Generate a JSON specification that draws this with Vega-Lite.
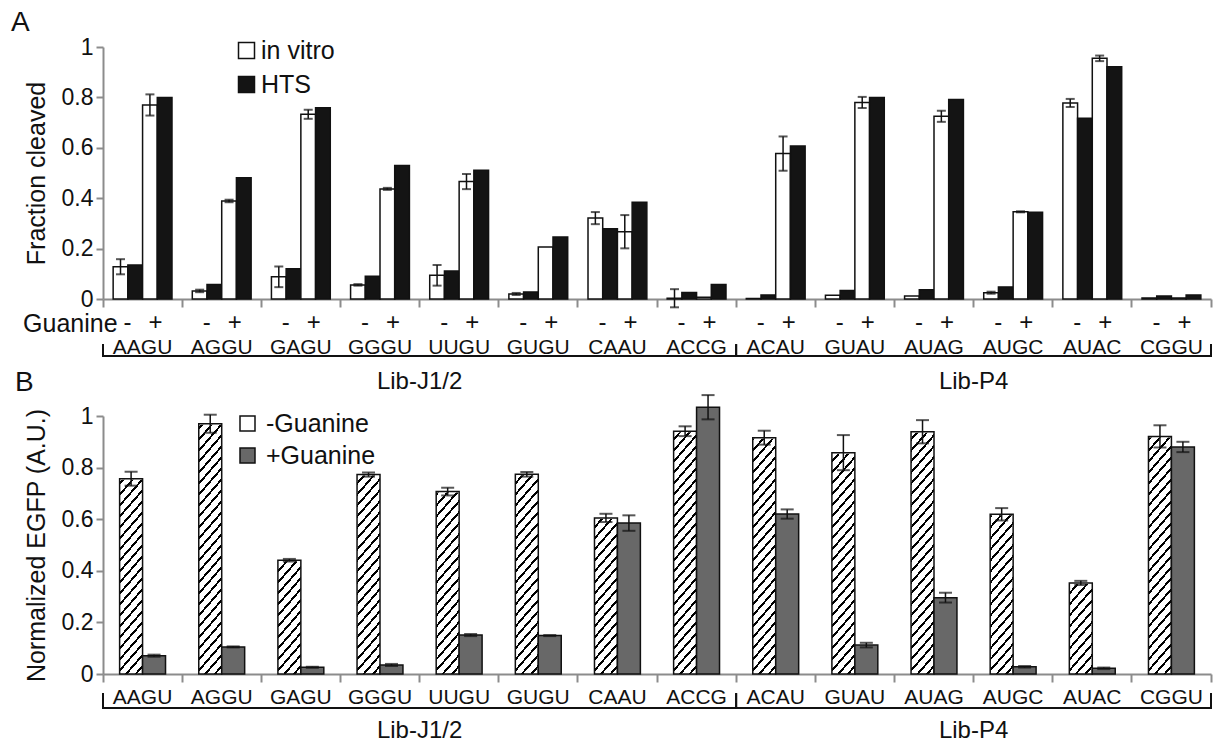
{
  "$schema": "https://vega.github.io/schema/vega-lite/v6.json",
  "padding": {"left": 11, "top": 9, "right": 0, "bottom": 0},
  "bounds": "flush",
  "spacing": 117,
  "resolve": {"scale": {"fill": "independent", "xOffset": "independent", "x": "independent", "y": "independent"}, "legend": {"fill": "independent"}, "axis": {"x": "independent", "y": "independent"}},
  "config": {
    "view": {"stroke": null},
    "font": "Liberation Sans",
    "axis": {"domainColor": "#8c8c8c", "tickColor": "#8c8c8c", "domainWidth": 2, "tickWidth": 2, "labelColor": "#111111", "titleColor": "#111111", "grid": false, "labelFont": "Liberation Sans", "titleFont": "Liberation Sans", "titleFontWeight": "normal"},
    "legend": {"labelFont": "Liberation Sans", "labelColor": "#111111"},
    "title": {"font": "Liberation Sans", "fontWeight": "normal", "color": "#111111"},
    "text": {"font": "Liberation Sans", "color": "#111111"}
  },
  "datasets": {
    "A": [
      {"group": "AAGU", "series": "in vitro", "sub": "in vitro -", "value": 0.128, "err": 0.030},
      {"group": "AAGU", "series": "HTS", "sub": "HTS -", "value": 0.135, "err": 0},
      {"group": "AAGU", "series": "in vitro", "sub": "in vitro +", "value": 0.770, "err": 0.042},
      {"group": "AAGU", "series": "HTS", "sub": "HTS +", "value": 0.800, "err": 0},
      {"group": "AGGU", "series": "in vitro", "sub": "in vitro -", "value": 0.032, "err": 0.005},
      {"group": "AGGU", "series": "HTS", "sub": "HTS -", "value": 0.058, "err": 0},
      {"group": "AGGU", "series": "in vitro", "sub": "in vitro +", "value": 0.389, "err": 0.005},
      {"group": "AGGU", "series": "HTS", "sub": "HTS +", "value": 0.481, "err": 0},
      {"group": "GAGU", "series": "in vitro", "sub": "in vitro -", "value": 0.088, "err": 0.041},
      {"group": "GAGU", "series": "HTS", "sub": "HTS -", "value": 0.120, "err": 0},
      {"group": "GAGU", "series": "in vitro", "sub": "in vitro +", "value": 0.733, "err": 0.018},
      {"group": "GAGU", "series": "HTS", "sub": "HTS +", "value": 0.759, "err": 0},
      {"group": "GGGU", "series": "in vitro", "sub": "in vitro -", "value": 0.056, "err": 0.003},
      {"group": "GGGU", "series": "HTS", "sub": "HTS -", "value": 0.090, "err": 0},
      {"group": "GGGU", "series": "in vitro", "sub": "in vitro +", "value": 0.437, "err": 0.004},
      {"group": "GGGU", "series": "HTS", "sub": "HTS +", "value": 0.530, "err": 0},
      {"group": "UUGU", "series": "in vitro", "sub": "in vitro -", "value": 0.094, "err": 0.041},
      {"group": "UUGU", "series": "HTS", "sub": "HTS -", "value": 0.111, "err": 0},
      {"group": "UUGU", "series": "in vitro", "sub": "in vitro +", "value": 0.466, "err": 0.030},
      {"group": "UUGU", "series": "HTS", "sub": "HTS +", "value": 0.511, "err": 0},
      {"group": "GUGU", "series": "in vitro", "sub": "in vitro -", "value": 0.020, "err": 0.004},
      {"group": "GUGU", "series": "HTS", "sub": "HTS -", "value": 0.028, "err": 0},
      {"group": "GUGU", "series": "in vitro", "sub": "in vitro +", "value": 0.206, "err": 0},
      {"group": "GUGU", "series": "HTS", "sub": "HTS +", "value": 0.246, "err": 0},
      {"group": "CAAU", "series": "in vitro", "sub": "in vitro -", "value": 0.321, "err": 0.024},
      {"group": "CAAU", "series": "HTS", "sub": "HTS -", "value": 0.279, "err": 0},
      {"group": "CAAU", "series": "in vitro", "sub": "in vitro +", "value": 0.267, "err": 0.066},
      {"group": "CAAU", "series": "HTS", "sub": "HTS +", "value": 0.384, "err": 0},
      {"group": "ACCG", "series": "in vitro", "sub": "in vitro -", "value": 0.003, "err": 0.036},
      {"group": "ACCG", "series": "HTS", "sub": "HTS -", "value": 0.026, "err": 0},
      {"group": "ACCG", "series": "in vitro", "sub": "in vitro +", "value": 0.007, "err": 0},
      {"group": "ACCG", "series": "HTS", "sub": "HTS +", "value": 0.058, "err": 0},
      {"group": "ACAU", "series": "in vitro", "sub": "in vitro -", "value": 0.002, "err": 0},
      {"group": "ACAU", "series": "HTS", "sub": "HTS -", "value": 0.016, "err": 0},
      {"group": "ACAU", "series": "in vitro", "sub": "in vitro +", "value": 0.577, "err": 0.068},
      {"group": "ACAU", "series": "HTS", "sub": "HTS +", "value": 0.607, "err": 0},
      {"group": "GUAU", "series": "in vitro", "sub": "in vitro -", "value": 0.015, "err": 0},
      {"group": "GUAU", "series": "HTS", "sub": "HTS -", "value": 0.034, "err": 0},
      {"group": "GUAU", "series": "in vitro", "sub": "in vitro +", "value": 0.780, "err": 0.022},
      {"group": "GUAU", "series": "HTS", "sub": "HTS +", "value": 0.800, "err": 0},
      {"group": "AUAG", "series": "in vitro", "sub": "in vitro -", "value": 0.012, "err": 0},
      {"group": "AUAG", "series": "HTS", "sub": "HTS -", "value": 0.037, "err": 0},
      {"group": "AUAG", "series": "in vitro", "sub": "in vitro +", "value": 0.725, "err": 0.022},
      {"group": "AUAG", "series": "HTS", "sub": "HTS +", "value": 0.792, "err": 0},
      {"group": "AUGC", "series": "in vitro", "sub": "in vitro -", "value": 0.025, "err": 0.004},
      {"group": "AUGC", "series": "HTS", "sub": "HTS -", "value": 0.048, "err": 0},
      {"group": "AUGC", "series": "in vitro", "sub": "in vitro +", "value": 0.346, "err": 0.002},
      {"group": "AUGC", "series": "HTS", "sub": "HTS +", "value": 0.344, "err": 0},
      {"group": "AUAC", "series": "in vitro", "sub": "in vitro -", "value": 0.778, "err": 0.016},
      {"group": "AUAC", "series": "HTS", "sub": "HTS -", "value": 0.717, "err": 0},
      {"group": "AUAC", "series": "in vitro", "sub": "in vitro +", "value": 0.955, "err": 0.011},
      {"group": "AUAC", "series": "HTS", "sub": "HTS +", "value": 0.922, "err": 0},
      {"group": "CGGU", "series": "in vitro", "sub": "in vitro -", "value": 0.004, "err": 0},
      {"group": "CGGU", "series": "HTS", "sub": "HTS -", "value": 0.012, "err": 0},
      {"group": "CGGU", "series": "in vitro", "sub": "in vitro +", "value": 0.004, "err": 0},
      {"group": "CGGU", "series": "HTS", "sub": "HTS +", "value": 0.016, "err": 0}
    ],
    "B": [
      {"group": "AAGU", "guanine": "-Guanine", "value": 0.757, "err": 0.027},
      {"group": "AAGU", "guanine": "+Guanine", "value": 0.071, "err": 0.004},
      {"group": "AGGU", "guanine": "-Guanine", "value": 0.970, "err": 0.035},
      {"group": "AGGU", "guanine": "+Guanine", "value": 0.105, "err": 0.002},
      {"group": "GAGU", "guanine": "-Guanine", "value": 0.441, "err": 0.005},
      {"group": "GAGU", "guanine": "+Guanine", "value": 0.026, "err": 0.002},
      {"group": "GGGU", "guanine": "-Guanine", "value": 0.773, "err": 0.008},
      {"group": "GGGU", "guanine": "+Guanine", "value": 0.035, "err": 0.004},
      {"group": "UUGU", "guanine": "-Guanine", "value": 0.707, "err": 0.015},
      {"group": "UUGU", "guanine": "+Guanine", "value": 0.151, "err": 0.004},
      {"group": "GUGU", "guanine": "-Guanine", "value": 0.774, "err": 0.009},
      {"group": "GUGU", "guanine": "+Guanine", "value": 0.149, "err": 0.002},
      {"group": "CAAU", "guanine": "-Guanine", "value": 0.605, "err": 0.016},
      {"group": "CAAU", "guanine": "+Guanine", "value": 0.585, "err": 0.030},
      {"group": "ACCG", "guanine": "-Guanine", "value": 0.941, "err": 0.019},
      {"group": "ACCG", "guanine": "+Guanine", "value": 1.034, "err": 0.047},
      {"group": "ACAU", "guanine": "-Guanine", "value": 0.916, "err": 0.027},
      {"group": "ACAU", "guanine": "+Guanine", "value": 0.620, "err": 0.018},
      {"group": "GUAU", "guanine": "-Guanine", "value": 0.858, "err": 0.068},
      {"group": "GUAU", "guanine": "+Guanine", "value": 0.112, "err": 0.009},
      {"group": "AUAG", "guanine": "-Guanine", "value": 0.939, "err": 0.045},
      {"group": "AUAG", "guanine": "+Guanine", "value": 0.296, "err": 0.019},
      {"group": "AUGC", "guanine": "-Guanine", "value": 0.619, "err": 0.024},
      {"group": "AUGC", "guanine": "+Guanine", "value": 0.028, "err": 0.003},
      {"group": "AUAC", "guanine": "-Guanine", "value": 0.353, "err": 0.008},
      {"group": "AUAC", "guanine": "+Guanine", "value": 0.022, "err": 0.003},
      {"group": "CGGU", "guanine": "-Guanine", "value": 0.921, "err": 0.043},
      {"group": "CGGU", "guanine": "+Guanine", "value": 0.880, "err": 0.020}
    ],
    "libs": [
      {"lib": "Lib-J1/2", "start": "AAGU", "end": "ACCG", "mid": "GGGU"},
      {"lib": "Lib-P4", "start": "ACAU", "end": "CGGU", "mid": "AUAG"}
    ]
  },
  "vconcat": [
    {
      "width": 1108,
      "height": 252,
      "title": {"text": "A", "anchor": "start", "frame": "bounds", "fontSize": 28, "dx": -12, "offset": -1},
      "layer": [
        {
          "data": {"name": "A"},
          "mark": {"type": "bar", "stroke": "#111111", "strokeWidth": 1.5},
          "encoding": {
            "x": {"field": "group", "type": "nominal", "scale": {"domain": ["AAGU","AGGU","GAGU","GGGU","UUGU","GUGU","CAAU","ACCG","ACAU","GUAU","AUAG","AUGC","AUAC","CGGU"], "paddingInner": 0, "paddingOuter": 0},
              "axis": {"title": null, "bandPosition": 1, "tickExtra": true, "tickSize": 8, "labelPadding": 29, "labelFontSize": 21, "labelAngle": 0}},
            "xOffset": {"field": "sub", "type": "nominal", "scale": {"domain": ["in vitro -","HTS -","in vitro +","HTS +"], "paddingInner": 0, "paddingOuter": 0.69}},
            "y": {"field": "value", "type": "quantitative", "title": "Fraction cleaved", "scale": {"domain": [0, 1], "nice": false},
              "axis": {"title": "Fraction cleaved", "values": [0, 0.2, 0.4, 0.6, 0.8, 1], "format": "~g", "tickSize": 7, "labelFontSize": 23, "labelPadding": 3, "titleFontSize": 25, "titlePadding": 12}},
            "fill": {"field": "series", "type": "nominal", "scale": {"domain": ["in vitro","HTS"], "range": ["#ffffff","#141414"]},
              "legend": {"title": null, "orient": "none", "legendX": 131, "legendY": -9, "symbolType": "square", "symbolSize": 256, "symbolStrokeColor": "#111111", "symbolStrokeWidth": 1.5, "labelFontSize": 25, "labelOffset": 2, "rowPadding": 8, "padding": 0}}
          }
        },
        {
          "data": {"name": "A"},
          "transform": [{"filter": "datum.err > 0"}],
          "mark": {"type": "errorbar", "color": "#111111", "thickness": 1.5, "ticks": {"size": 9, "thickness": 2}},
          "encoding": {
            "x": {"field": "group", "type": "nominal", "scale": {"domain": ["AAGU","AGGU","GAGU","GGGU","UUGU","GUGU","CAAU","ACCG","ACAU","GUAU","AUAG","AUGC","AUAC","CGGU"]}},
            "xOffset": {"field": "sub", "type": "nominal", "scale": {"domain": ["in vitro -","HTS -","in vitro +","HTS +"]}},
            "y": {"field": "value", "type": "quantitative", "title": "Fraction cleaved", "scale": {"domain": [0, 1], "nice": false}},
            "yError": {"field": "err"}
          }
        },
        {
          "data": {"name": "A"},
          "transform": [{"filter": "datum.sub === 'HTS -'"}],
          "mark": {"type": "text", "text": "-", "fontSize": 24, "dx": -15, "baseline": "middle"},
          "encoding": {
            "x": {"field": "group", "type": "nominal", "scale": {"domain": ["AAGU","AGGU","GAGU","GGGU","UUGU","GUGU","CAAU","ACCG","ACAU","GUAU","AUAG","AUGC","AUAC","CGGU"]}},
            "y": {"datum": -0.097, "type": "quantitative", "scale": {"domain": [0, 1], "nice": false}}
          }
        },
        {
          "data": {"name": "A"},
          "transform": [{"filter": "datum.sub === 'HTS +'"}],
          "mark": {"type": "text", "text": "+", "fontSize": 24, "dx": 13, "baseline": "middle"},
          "encoding": {
            "x": {"field": "group", "type": "nominal", "scale": {"domain": ["AAGU","AGGU","GAGU","GGGU","UUGU","GUGU","CAAU","ACCG","ACAU","GUAU","AUAG","AUGC","AUAC","CGGU"]}},
            "y": {"datum": -0.097, "type": "quantitative", "scale": {"domain": [0, 1], "nice": false}}
          }
        },
        {
          "data": {"values": [{"group": "AAGU", "label": "Guanine"}]},
          "mark": {"type": "text", "fontSize": 25, "dx": -25, "align": "right", "baseline": "middle"},
          "encoding": {
            "x": {"field": "group", "type": "nominal", "scale": {"domain": ["AAGU","AGGU","GAGU","GGGU","UUGU","GUGU","CAAU","ACCG","ACAU","GUAU","AUAG","AUGC","AUAC","CGGU"]}},
            "y": {"datum": -0.1, "type": "quantitative", "scale": {"domain": [0, 1], "nice": false}},
            "text": {"field": "label"}
          }
        },
        {
          "data": {"name": "libs"},
          "mark": {"type": "rule", "strokeWidth": 2, "color": "#111111", "strokeCap": "square"},
          "encoding": {
            "x": {"field": "start", "type": "nominal", "bandPosition": 0, "scale": {"domain": ["AAGU","AGGU","GAGU","GGGU","UUGU","GUGU","CAAU","ACCG","ACAU","GUAU","AUAG","AUGC","AUAC","CGGU"]}},
            "x2": {"field": "end", "bandPosition": 1},
            "y": {"datum": -0.226, "type": "quantitative", "scale": {"domain": [0, 1], "nice": false}}
          }
        },
        {
          "data": {"name": "libs"},
          "mark": {"type": "rule", "strokeWidth": 2, "color": "#111111"},
          "encoding": {
            "x": {"field": "start", "type": "nominal", "bandPosition": 0, "scale": {"domain": ["AAGU","AGGU","GAGU","GGGU","UUGU","GUGU","CAAU","ACCG","ACAU","GUAU","AUAG","AUGC","AUAC","CGGU"]}},
            "y": {"datum": -0.179, "type": "quantitative", "scale": {"domain": [0, 1], "nice": false}},
            "y2": {"datum": -0.226}
          }
        },
        {
          "data": {"name": "libs"},
          "mark": {"type": "rule", "strokeWidth": 2, "color": "#111111"},
          "encoding": {
            "x": {"field": "end", "type": "nominal", "bandPosition": 1, "scale": {"domain": ["AAGU","AGGU","GAGU","GGGU","UUGU","GUGU","CAAU","ACCG","ACAU","GUAU","AUAG","AUGC","AUAC","CGGU"]}},
            "y": {"datum": -0.179, "type": "quantitative", "scale": {"domain": [0, 1], "nice": false}},
            "y2": {"datum": -0.226}
          }
        },
        {
          "data": {"name": "libs"},
          "mark": {"type": "text", "fontSize": 24, "baseline": "middle"},
          "encoding": {
            "x": {"field": "mid", "type": "nominal", "bandPosition": 1, "scale": {"domain": ["AAGU","AGGU","GAGU","GGGU","UUGU","GUGU","CAAU","ACCG","ACAU","GUAU","AUAG","AUGC","AUAC","CGGU"]}},
            "y": {"datum": -0.329, "type": "quantitative", "scale": {"domain": [0, 1], "nice": false}},
            "text": {"field": "lib"}
          }
        }
      ]
    },
    {
      "width": 1108,
      "height": 258,
      "title": {"text": "B", "anchor": "start", "frame": "bounds", "fontSize": 28, "dx": -9, "offset": -8},
      "layer": [
        {
          "data": {"name": "B"},
          "transform": [{"filter": "datum.guanine === '-Guanine'"}],
          "mark": {"type": "bar", "strokeWidth": 0, "fill": {"gradient": "linear", "x1": 0, "y1": 0, "x2": 0.10093, "y2": 1.08373, "stops": [
            {"offset": 0, "color": "white"},
            {"offset": 0.01288, "color": "white"}, {"offset": 0.01288, "color": "black"}, {"offset": 0.02254, "color": "black"}, {"offset": 0.02254, "color": "white"},
            {"offset": 0.04832, "color": "white"}, {"offset": 0.04832, "color": "black"}, {"offset": 0.05798, "color": "black"}, {"offset": 0.05798, "color": "white"},
            {"offset": 0.08375, "color": "white"}, {"offset": 0.08375, "color": "black"}, {"offset": 0.09341, "color": "black"}, {"offset": 0.09341, "color": "white"},
            {"offset": 0.11918, "color": "white"}, {"offset": 0.11918, "color": "black"}, {"offset": 0.12884, "color": "black"}, {"offset": 0.12884, "color": "white"},
            {"offset": 0.15461, "color": "white"}, {"offset": 0.15461, "color": "black"}, {"offset": 0.16427, "color": "black"}, {"offset": 0.16427, "color": "white"},
            {"offset": 0.19005, "color": "white"}, {"offset": 0.19005, "color": "black"}, {"offset": 0.19971, "color": "black"}, {"offset": 0.19971, "color": "white"},
            {"offset": 0.22548, "color": "white"}, {"offset": 0.22548, "color": "black"}, {"offset": 0.23514, "color": "black"}, {"offset": 0.23514, "color": "white"},
            {"offset": 0.26091, "color": "white"}, {"offset": 0.26091, "color": "black"}, {"offset": 0.27057, "color": "black"}, {"offset": 0.27057, "color": "white"},
            {"offset": 0.29634, "color": "white"}, {"offset": 0.29634, "color": "black"}, {"offset": 0.30600, "color": "black"}, {"offset": 0.30600, "color": "white"},
            {"offset": 0.33178, "color": "white"}, {"offset": 0.33178, "color": "black"}, {"offset": 0.34144, "color": "black"}, {"offset": 0.34144, "color": "white"},
            {"offset": 0.36721, "color": "white"}, {"offset": 0.36721, "color": "black"}, {"offset": 0.37687, "color": "black"}, {"offset": 0.37687, "color": "white"},
            {"offset": 0.40264, "color": "white"}, {"offset": 0.40264, "color": "black"}, {"offset": 0.41230, "color": "black"}, {"offset": 0.41230, "color": "white"},
            {"offset": 0.43807, "color": "white"}, {"offset": 0.43807, "color": "black"}, {"offset": 0.44773, "color": "black"}, {"offset": 0.44773, "color": "white"},
            {"offset": 0.47351, "color": "white"}, {"offset": 0.47351, "color": "black"}, {"offset": 0.48317, "color": "black"}, {"offset": 0.48317, "color": "white"},
            {"offset": 0.50894, "color": "white"}, {"offset": 0.50894, "color": "black"}, {"offset": 0.51860, "color": "black"}, {"offset": 0.51860, "color": "white"},
            {"offset": 0.54437, "color": "white"}, {"offset": 0.54437, "color": "black"}, {"offset": 0.55403, "color": "black"}, {"offset": 0.55403, "color": "white"},
            {"offset": 0.57980, "color": "white"}, {"offset": 0.57980, "color": "black"}, {"offset": 0.58946, "color": "black"}, {"offset": 0.58946, "color": "white"},
            {"offset": 0.61524, "color": "white"}, {"offset": 0.61524, "color": "black"}, {"offset": 0.62490, "color": "black"}, {"offset": 0.62490, "color": "white"},
            {"offset": 0.65067, "color": "white"}, {"offset": 0.65067, "color": "black"}, {"offset": 0.66033, "color": "black"}, {"offset": 0.66033, "color": "white"},
            {"offset": 0.68610, "color": "white"}, {"offset": 0.68610, "color": "black"}, {"offset": 0.69576, "color": "black"}, {"offset": 0.69576, "color": "white"},
            {"offset": 0.72153, "color": "white"}, {"offset": 0.72153, "color": "black"}, {"offset": 0.73119, "color": "black"}, {"offset": 0.73119, "color": "white"},
            {"offset": 0.75697, "color": "white"}, {"offset": 0.75697, "color": "black"}, {"offset": 0.76663, "color": "black"}, {"offset": 0.76663, "color": "white"},
            {"offset": 0.79240, "color": "white"}, {"offset": 0.79240, "color": "black"}, {"offset": 0.80206, "color": "black"}, {"offset": 0.80206, "color": "white"},
            {"offset": 0.82783, "color": "white"}, {"offset": 0.82783, "color": "black"}, {"offset": 0.83749, "color": "black"}, {"offset": 0.83749, "color": "white"},
            {"offset": 0.86326, "color": "white"}, {"offset": 0.86326, "color": "black"}, {"offset": 0.87292, "color": "black"}, {"offset": 0.87292, "color": "white"},
            {"offset": 0.89870, "color": "white"}, {"offset": 0.89870, "color": "black"}, {"offset": 0.90836, "color": "black"}, {"offset": 0.90836, "color": "white"},
            {"offset": 0.93413, "color": "white"}, {"offset": 0.93413, "color": "black"}, {"offset": 0.94379, "color": "black"}, {"offset": 0.94379, "color": "white"},
            {"offset": 0.96956, "color": "white"}, {"offset": 0.96956, "color": "black"}, {"offset": 0.97922, "color": "black"}, {"offset": 0.97922, "color": "white"},
            {"offset": 1, "color": "white"}
          ]}},
          "encoding": {
            "x": {"field": "group", "type": "nominal", "scale": {"domain": ["AAGU","AGGU","GAGU","GGGU","UUGU","GUGU","CAAU","ACCG","ACAU","GUAU","AUAG","AUGC","AUAC","CGGU"], "paddingInner": 0, "paddingOuter": 0},
              "axis": {"title": null, "bandPosition": 1, "tickExtra": true, "tickSize": 8, "labelPadding": 4, "labelFontSize": 21, "labelAngle": 0}},
            "xOffset": {"field": "guanine", "type": "nominal", "scale": {"domain": ["-Guanine","+Guanine"], "paddingInner": 0, "paddingOuter": 0.724}},
            "y": {"datum": 1.1, "type": "quantitative", "scale": {"domain": [0, 1], "nice": false},
              "axis": {"title": "Normalized EGFP (A.U.)", "values": [0, 0.2, 0.4, 0.6, 0.8, 1], "format": "~g", "tickSize": 7, "labelFontSize": 23, "labelPadding": 3, "titleFontSize": 25, "titlePadding": 12}},
            "y2": {"datum": 0}
          }
        },
        {
          "data": {"name": "B"},
          "transform": [{"filter": "datum.guanine === '-Guanine'"}],
          "mark": {"type": "bar", "fill": "white", "stroke": "white", "strokeWidth": 2},
          "encoding": {
            "x": {"field": "group", "type": "nominal", "scale": {"domain": ["AAGU","AGGU","GAGU","GGGU","UUGU","GUGU","CAAU","ACCG","ACAU","GUAU","AUAG","AUGC","AUAC","CGGU"]}},
            "xOffset": {"field": "guanine", "type": "nominal", "scale": {"domain": ["-Guanine","+Guanine"]}},
            "y": {"field": "value", "type": "quantitative", "title": "Normalized EGFP (A.U.)", "scale": {"domain": [0, 1], "nice": false}},
            "y2": {"datum": 1.1}
          }
        },
        {
          "data": {"name": "B"},
          "mark": {"type": "bar", "stroke": "#111111", "strokeWidth": 1.5},
          "encoding": {
            "x": {"field": "group", "type": "nominal", "scale": {"domain": ["AAGU","AGGU","GAGU","GGGU","UUGU","GUGU","CAAU","ACCG","ACAU","GUAU","AUAG","AUGC","AUAC","CGGU"]}},
            "xOffset": {"field": "guanine", "type": "nominal", "scale": {"domain": ["-Guanine","+Guanine"]}},
            "y": {"field": "value", "type": "quantitative", "title": "Normalized EGFP (A.U.)", "scale": {"domain": [0, 1], "nice": false}},
            "fill": {"field": "guanine", "type": "nominal", "scale": {"domain": ["-Guanine","+Guanine"], "range": ["transparent","#686868"]},
              "legend": {"title": null, "orient": "none", "legendX": 132, "legendY": -5, "symbolType": "square", "symbolSize": 225, "labelFontSize": 25, "labelOffset": 6, "rowPadding": 6, "padding": 0, "symbolStrokeColor": "#111111", "symbolStrokeWidth": 1.5}}
          }
        },
        {
          "data": {"name": "B"},
          "mark": {"type": "errorbar", "color": "#111111", "thickness": 1.5, "ticks": {"size": 13, "thickness": 2}},
          "encoding": {
            "x": {"field": "group", "type": "nominal", "scale": {"domain": ["AAGU","AGGU","GAGU","GGGU","UUGU","GUGU","CAAU","ACCG","ACAU","GUAU","AUAG","AUGC","AUAC","CGGU"]}},
            "xOffset": {"field": "guanine", "type": "nominal", "scale": {"domain": ["-Guanine","+Guanine"]}},
            "y": {"field": "value", "type": "quantitative", "title": "Normalized EGFP (A.U.)", "scale": {"domain": [0, 1], "nice": false}},
            "yError": {"field": "err"}
          }
        },
        {
          "data": {"name": "libs"},
          "mark": {"type": "rule", "strokeWidth": 2, "color": "#111111", "strokeCap": "square"},
          "encoding": {
            "x": {"field": "start", "type": "nominal", "bandPosition": 0, "scale": {"domain": ["AAGU","AGGU","GAGU","GGGU","UUGU","GUGU","CAAU","ACCG","ACAU","GUAU","AUAG","AUGC","AUAC","CGGU"]}},
            "x2": {"field": "end", "bandPosition": 1},
            "y": {"datum": -0.132, "type": "quantitative", "scale": {"domain": [0, 1], "nice": false}}
          }
        },
        {
          "data": {"name": "libs"},
          "mark": {"type": "rule", "strokeWidth": 2, "color": "#111111"},
          "encoding": {
            "x": {"field": "start", "type": "nominal", "bandPosition": 0, "scale": {"domain": ["AAGU","AGGU","GAGU","GGGU","UUGU","GUGU","CAAU","ACCG","ACAU","GUAU","AUAG","AUGC","AUAC","CGGU"]}},
            "y": {"datum": -0.074, "type": "quantitative", "scale": {"domain": [0, 1], "nice": false}},
            "y2": {"datum": -0.132}
          }
        },
        {
          "data": {"name": "libs"},
          "mark": {"type": "rule", "strokeWidth": 2, "color": "#111111"},
          "encoding": {
            "x": {"field": "end", "type": "nominal", "bandPosition": 1, "scale": {"domain": ["AAGU","AGGU","GAGU","GGGU","UUGU","GUGU","CAAU","ACCG","ACAU","GUAU","AUAG","AUGC","AUAC","CGGU"]}},
            "y": {"datum": -0.074, "type": "quantitative", "scale": {"domain": [0, 1], "nice": false}},
            "y2": {"datum": -0.132}
          }
        },
        {
          "data": {"name": "libs"},
          "mark": {"type": "text", "fontSize": 24, "baseline": "middle"},
          "encoding": {
            "x": {"field": "mid", "type": "nominal", "bandPosition": 1, "scale": {"domain": ["AAGU","AGGU","GAGU","GGGU","UUGU","GUGU","CAAU","ACCG","ACAU","GUAU","AUAG","AUGC","AUAC","CGGU"]}},
            "y": {"datum": -0.219, "type": "quantitative", "scale": {"domain": [0, 1], "nice": false}},
            "text": {"field": "lib"}
          }
        }
      ]
    }
  ]
}
